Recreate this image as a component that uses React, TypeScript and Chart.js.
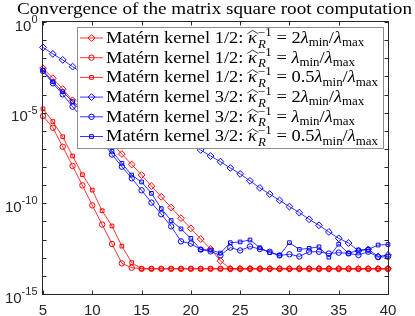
import { useEffect, useRef } from 'react';
import { Chart, registerables } from 'chart.js';

Chart.register(...registerables);

// ---- data (log10 of the error) ----
const iterations = [5, 6, 7, 8, 9, 10, 11, 12, 13, 14, 15, 16, 17, 18, 19, 20, 21, 22, 23, 24, 25, 26, 27, 28, 29, 30, 31, 32, 33, 34, 35, 36, 37, 38, 39, 40];

const m12Two = [-2.55, -3.10, -3.70, -4.32, -4.89, -5.49, -6.09, -6.69, -7.28, -7.86, -8.44, -9.05, -9.64, -10.23, -10.82, -11.38, -11.97, -12.52, -13.17, -13.61, -13.61, -13.61, -13.61, -13.61, -13.61, -13.61, -13.61, -13.61, -13.61, -13.61, -13.61, -13.61, -13.61, -13.61, -13.61, -13.61];
const m12One = [-5.19, -5.83, -6.88, -7.94, -9.01, -10.11, -11.17, -12.24, -13.31, -13.55, -13.61, -13.61, -13.61, -13.61, -13.61, -13.61, -13.61, -13.61, -13.61, -13.61, -13.61, -13.61, -13.61, -13.61, -13.61, -13.61, -13.61, -13.61, -13.61, -13.61, -13.61, -13.61, -13.61, -13.61, -13.61, -13.61];
const m12Half = [-4.79, -5.49, -6.33, -7.39, -8.42, -9.27, -10.41, -11.25, -12.36, -13.27, -13.61, -13.61, -13.61, -13.61, -13.61, -13.61, -13.61, -13.61, -13.61, -13.61, -13.61, -13.61, -13.61, -13.61, -13.61, -13.61, -13.61, -13.61, -13.61, -13.61, -13.61, -13.61, -13.61, -13.61, -13.61, -13.61];
const m32Two = [-1.40, -1.76, -2.09, -2.46, -2.82, -3.18, -3.54, -3.89, -4.25, -4.60, -4.94, -5.29, -5.64, -5.99, -6.34, -6.69, -7.06, -7.39, -7.70, -8.05, -8.38, -8.76, -9.15, -9.49, -9.84, -10.18, -10.51, -10.88, -11.21, -11.58, -11.93, -12.19, -12.62, -12.54, -12.93, -12.85];
const m32One = [-2.70, -3.38, -3.99, -4.67, -5.29, -5.94, -6.59, -7.31, -7.98, -8.62, -9.28, -9.96, -10.60, -11.27, -12.10, -12.22, -12.55, -12.65, -12.87, -12.44, -12.60, -12.38, -12.52, -12.67, -12.87, -12.81, -12.93, -12.67, -12.67, -12.77, -12.72, -12.76, -12.85, -12.67, -12.97, -12.94];
const m32Half = [-2.65, -3.29, -3.84, -4.39, -5.04, -5.74, -6.44, -7.13, -7.79, -8.44, -8.82, -9.45, -10.29, -10.95, -11.41, -11.93, -12.55, -12.57, -12.74, -12.17, -12.13, -12.02, -12.45, -12.72, -12.87, -12.17, -12.54, -12.48, -12.40, -12.97, -12.25, -12.76, -12.57, -12.54, -12.30, -12.27];

const xTicks = [5, 10, 15, 20, 25, 30, 35, 40];
const yDecades = [0, -1, -2, -3, -4, -5, -6, -7, -8, -9, -10, -11, -12, -13, -14, -15];
const yLabelExps = [0, -5, -10, -15];

const titleText = 'Convergence of the matrix square root computation';
const legendKernels = ['1/2', '1/2', '1/2', '3/2', '3/2', '3/2'];
const legendCoefs = ['2', '', '0.5', '2', '', '0.5'];
const seriesList = [m12Two, m12One, m12Half, m32Two, m32One, m32Half];
const seriesColors = ['#ff0000', '#ff0000', '#ff0000', '#0000ff', '#0000ff', '#0000ff'];
const seriesMarkers = ['rectRot', 'circle', 'rect', 'rectRot', 'circle', 'rect'];
const markerRadius: Record<string, number> = { rectRot: 3.4, circle: 2.7, rect: 2.6 };

const SERIF = '"Liberation Serif", "DejaVu Serif", serif';
const SANS = '"Liberation Sans", Arial, sans-serif';

function drawMarker(ctx: CanvasRenderingContext2D, style: string, x: number, y: number, r: number) {
  ctx.beginPath();
  if (style === 'rectRot') {
    ctx.moveTo(x, y - r);
    ctx.lineTo(x + r, y);
    ctx.lineTo(x, y + r);
    ctx.lineTo(x - r, y);
    ctx.closePath();
  } else if (style === 'circle') {
    ctx.arc(x, y, r, 0, Math.PI * 2);
  } else {
    const h = r * Math.SQRT1_2;
    ctx.rect(x - h, y - h, 2 * h, 2 * h);
  }
  ctx.stroke();
}

function legendRow(ctx: CanvasRenderingContext2D, x: number, base: number, f: number, kernel: string, coef: string, draw: boolean) {
  let cx = x;
  const rom = (s: number) => `${s}px ${SERIF}`;
  const ita = (s: number) => `italic ${s}px ${SERIF}`;
  const put = (text: string, font: string, dy = 0) => {
    ctx.font = font;
    const w = ctx.measureText(text).width;
    if (draw) ctx.fillText(text, cx, base + dy);
    return w;
  };
  cx += put(`Matérn kernel ${kernel}: `, rom(f));
  ctx.font = ita(f);
  const kw = ctx.measureText('κ').width;
  if (draw) {
    ctx.fillText('κ', cx, base);
    ctx.beginPath();
    ctx.moveTo(cx - 0.04 * f, base - 0.55 * f);
    ctx.lineTo(cx + kw * 0.5, base - 0.76 * f);
    ctx.lineTo(cx + kw + 0.08 * f, base - 0.55 * f);
    ctx.lineWidth = 0.7;
    ctx.stroke();
  }
  cx += kw + 0.06 * f;
  const s = 0.7 * f;
  ctx.font = ita(s);
  const rw = ctx.measureText('R').width;
  ctx.font = rom(s);
  const mw = ctx.measureText('−1').width;
  if (draw) {
    ctx.font = ita(s);
    ctx.fillText('R', cx, base + 0.28 * f);
    ctx.font = rom(s);
    ctx.fillText('−1', cx, base - 0.42 * f);
  }
  cx += Math.max(rw, mw);
  cx += put(` = ${coef}`, rom(f));
  cx += put('λ', ita(f));
  cx += put('min', rom(s), 0.2 * f);
  cx += put('/', rom(f));
  cx += put('λ', ita(f));
  cx += put('max', rom(s), 0.2 * f);
  return cx - x;
}

const decorPlugin = {
  id: 'decor',
  afterDraw(chart: any) {
    const ctx: CanvasRenderingContext2D = chart.ctx;
    const xs = chart.scales.x;
    const ys = chart.scales.y;
    const { left, right, top, bottom } = chart.chartArea;
    ctx.save();
    // axes box
    ctx.strokeStyle = '#262626';
    ctx.lineWidth = 1;
    const L = Math.round(left) - 0.5, R = Math.round(right) + 0.5, T = Math.round(top) - 0.5, B = Math.round(bottom) + 0.5;
    ctx.strokeRect(L, T, R - L, B - T);
    ctx.beginPath();
    for (const v of xTicks) {
      const px = Math.round(xs.getPixelForValue(v)) + 0.5;
      ctx.moveTo(px, B); ctx.lineTo(px, B - 4);
      ctx.moveTo(px, T); ctx.lineTo(px, T + 4);
    }
    for (const e of yDecades) {
      const py = Math.round(ys.getPixelForValue(Math.pow(10, e))) + 0.5;
      ctx.moveTo(L, py); ctx.lineTo(L + 4, py);
      ctx.moveTo(R, py); ctx.lineTo(R - 4, py);
    }
    ctx.stroke();
    // x tick labels
    ctx.fillStyle = '#262626';
    ctx.font = `15px ${SANS}`;
    ctx.textAlign = 'center';
    ctx.textBaseline = 'alphabetic';
    for (const v of xTicks) {
      ctx.fillText(String(v), xs.getPixelForValue(v), 314.5);
    }
    // y tick labels with superscripts
    for (const e of yLabelExps) {
      const py = ys.getPixelForValue(Math.pow(10, e));
      const xr = left - 5.5;
      ctx.textAlign = 'right';
      ctx.font = `11px ${SANS}`;
      const ex = String(e);
      const ew = ctx.measureText(ex).width;
      ctx.fillText(ex, xr, py + 1);
      ctx.font = `15px ${SANS}`;
      ctx.fillText('10', xr - ew, py + 8.5);
    }
    // title
    ctx.fillStyle = '#000';
    ctx.textAlign = 'left';
    ctx.font = `17.5px ${SERIF}`;
    const tw = ctx.measureText(titleText).width;
    const tTarget = 395;
    ctx.save();
    ctx.translate(214.5 - tTarget / 2, 0);
    ctx.scale(tTarget / tw, 1);
    ctx.fillText(titleText, 0, 13.6);
    ctx.restore();
    // legend
    const lx0 = 77, ly0 = 27, lx1 = 383, ly1 = 148;
    ctx.fillStyle = '#ffffff';
    ctx.fillRect(lx0, ly0, lx1 - lx0, ly1 - ly0);
    ctx.strokeStyle = '#8c8c8c';
    ctx.lineWidth = 1;
    ctx.strokeRect(lx0 + 0.5, ly0 + 0.5, lx1 - lx0, ly1 - ly0);
    const f = 16.5;
    const widest = legendRow(ctx, 0, 0, f, '1/2', '0.5', false);
    const sx = (378 - 106) / widest;
    for (let i = 0; i < 6; i++) {
      const cy = 38 + 19.7 * i;
      ctx.strokeStyle = seriesColors[i];
      ctx.lineWidth = 0.8;
      ctx.beginPath();
      ctx.moveTo(80, cy); ctx.lineTo(103, cy);
      ctx.stroke();
      ctx.lineWidth = 1;
      drawMarker(ctx, seriesMarkers[i], 91.5, cy, markerRadius[seriesMarkers[i]]);
      ctx.save();
      ctx.fillStyle = '#000';
      ctx.strokeStyle = '#000';
      ctx.translate(106, 0);
      ctx.scale(sx, 1);
      legendRow(ctx, 0, cy + 4.9, f, legendKernels[i], legendCoefs[i], true);
      ctx.restore();
    }
    ctx.restore();
  },
};

export default function App() {
  const ref = useRef<HTMLCanvasElement | null>(null);
  useEffect(() => {
    if (!ref.current) return;
    const datasets = seriesList.map((arr, i) => ({
      label: `series${i}`,
      data: iterations.map((n, k) => ({ x: n, y: Math.pow(10, arr[k]) })),
      borderColor: seriesColors[i],
      backgroundColor: 'rgba(0,0,0,0)',
      borderWidth: 0.8,
      pointStyle: seriesMarkers[i] as any,
      pointRadius: markerRadius[seriesMarkers[i]],
      pointBorderWidth: 1,
      pointBorderColor: seriesColors[i],
      pointBackgroundColor: 'rgba(0,0,0,0)',
      tension: 0,
      clip: false as any,
      order: 6 - i,
    }));
    const chart = new Chart(ref.current, {
      type: 'line',
      data: { datasets },
      options: {
        animation: false,
        responsive: false,
        events: [],
        layout: { padding: { left: 43, right: 27, top: 22, bottom: 22 } },
        plugins: { legend: { display: false }, title: { display: false }, tooltip: { enabled: false } },
        scales: {
          x: { type: 'linear', min: 5, max: 40, display: false },
          y: { type: 'logarithmic', min: 1e-15, max: 1, display: false },
        },
      },
      plugins: [decorPlugin],
    });
    return () => chart.destroy();
  }, []);
  return (
    <div style={{ position: 'fixed', left: 0, top: 0, width: 415, height: 316, background: '#fff' }}>
      <canvas ref={ref} width={415} height={316} style={{ display: 'block', width: 415, height: 316 }} />
    </div>
  );
}
